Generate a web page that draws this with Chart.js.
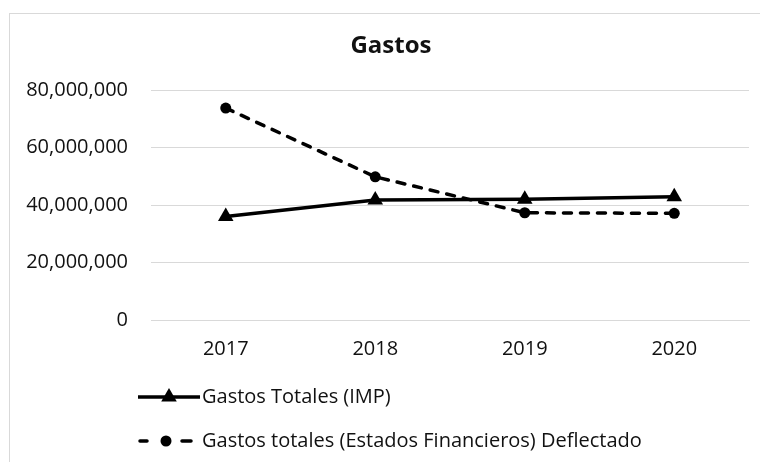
<!DOCTYPE html>
<html>
<head>
<meta charset="utf-8">
<script src="https://cdn.jsdelivr.net/npm/chart.js@4.4.1/dist/chart.umd.min.js"></script>
<style>
  body { margin: 0; background: #fff; }
</style>
</head>
<body>
<canvas id="myChart" width="760" height="462"></canvas>
<script>
const years = ['2017', '2018', '2019', '2020'];
const gastosIMP = [36000000, 41700000, 42000000, 42900000];
const gastosEF = [73700000, 49800000, 37300000, 37100000];
const seriesNames = ['Gastos Totales (IMP)', 'Gastos totales (Estados Financieros) Deflectado'];
const chartTitle = 'Gastos';
const yMax = 80000000;
const yStep = 20000000;

const fontFamily = "'Open Sans', sans-serif";
const textColor = '#111';

// frame round the chart and the title, centred on the chart box (not the canvas)
const framePlugin = {
    id: 'frame',
    beforeDraw(chart) {
        const ctx = chart.ctx;
        ctx.save();
        ctx.fillStyle = '#fff';
        ctx.fillRect(0, 0, chart.width, chart.height);
        ctx.strokeStyle = '#d9d9d9';
        ctx.lineWidth = 1;
        ctx.strokeRect(9.5, 13.5, chart.width, chart.height);
        ctx.fillStyle = textColor;
        ctx.font = 'bold 24px ' + fontFamily;
        ctx.textAlign = 'center';
        ctx.textBaseline = 'middle';
        ctx.fillText(chartTitle, 391, 46);
        ctx.restore();
    }
};

// legend stacked in rows, line sample with the marker in the middle
const stackedLegend = {
    id: 'stackedLegend',
    afterDraw(chart) {
        const ctx = chart.ctx;
        const x0 = 138;
        const rows = [397, 441];
        chart.data.datasets.forEach((ds, i) => {
            const y = rows[i];
            const x1 = i === 0 ? 200 : 193;
            ctx.save();
            ctx.strokeStyle = ds.borderColor;
            ctx.fillStyle = ds.pointBackgroundColor;
            ctx.lineWidth = ds.borderWidth;
            ctx.lineCap = ds.borderCapStyle || 'butt';
            ctx.beginPath();
            if (ds.borderDash) {
                ctx.moveTo(x0 + 2, y); ctx.lineTo(x0 + 9, y);
                ctx.moveTo(x1 - 11, y); ctx.lineTo(x1 - 2, y);
            } else {
                ctx.moveTo(x0, y);
                ctx.lineTo(x1, y);
            }
            ctx.stroke();
            const mx = i === 0 ? (x0 + x1) / 2 : 166;
            Chart.helpers.drawPoint(ctx, {
                pointStyle: ds.pointStyle,
                radius: ds.pointRadius,
                rotation: 0,
                borderWidth: 0
            }, mx, y);
            ctx.fillStyle = textColor;
            ctx.font = '20px ' + fontFamily;
            ctx.textBaseline = 'middle';
            ctx.fillText(ds.label, 202, y);
            ctx.restore();
        });
    }
};

const ctx = document.getElementById('myChart').getContext('2d');
const myChart = new Chart(ctx, {
    type: 'line',
    data: {
        labels: years,
        datasets: [{
            label: seriesNames[0],
            data: gastosIMP,
            borderColor: '#000',
            backgroundColor: '#000',
            pointBackgroundColor: '#000',
            pointBorderColor: '#000',
            borderWidth: 3.5,
            pointStyle: 'triangle',
            pointRadius: 9,
            pointBorderWidth: 0,
            tension: 0
        }, {
            label: seriesNames[1],
            data: gastosEF,
            borderColor: '#000',
            backgroundColor: '#000',
            pointBackgroundColor: '#000',
            pointBorderColor: '#000',
            borderWidth: 3.5,
            borderDash: [8, 9],
            borderCapStyle: 'round',
            pointStyle: 'circle',
            pointRadius: 5.5,
            pointBorderWidth: 0,
            tension: 0
        }]
    },
    options: {
        responsive: false,
        devicePixelRatio: 1,
        animation: false,
        layout: {
            padding: { left: 0, right: 11, top: 90, bottom: 100 }
        },
        plugins: {
            legend: { display: false },
            tooltip: { enabled: false },
            title: { display: false }
        },
        scales: {
            x: {
                offset: true,
                grid: { display: false, drawTicks: false },
                border: { display: true, color: '#d9d9d9', width: 1 },
                ticks: {
                    color: textColor,
                    font: { family: fontFamily, size: 20 },
                    padding: 17,
                    maxRotation: 0
                },
                afterFit: scale => { scale.height = 42; }
            },
            y: {
                min: 0,
                max: yMax,
                grid: { color: '#d9d9d9', drawTicks: false },
                border: { display: false },
                ticks: {
                    stepSize: yStep,
                    color: textColor,
                    font: { family: fontFamily, size: 20 },
                    padding: 23,
                    callback: v => v.toLocaleString('en-US')
                },
                afterFit: scale => { scale.width = 151; }
            }
        }
    },
    plugins: [framePlugin, stackedLegend]
});
</script>
</body>
</html>
